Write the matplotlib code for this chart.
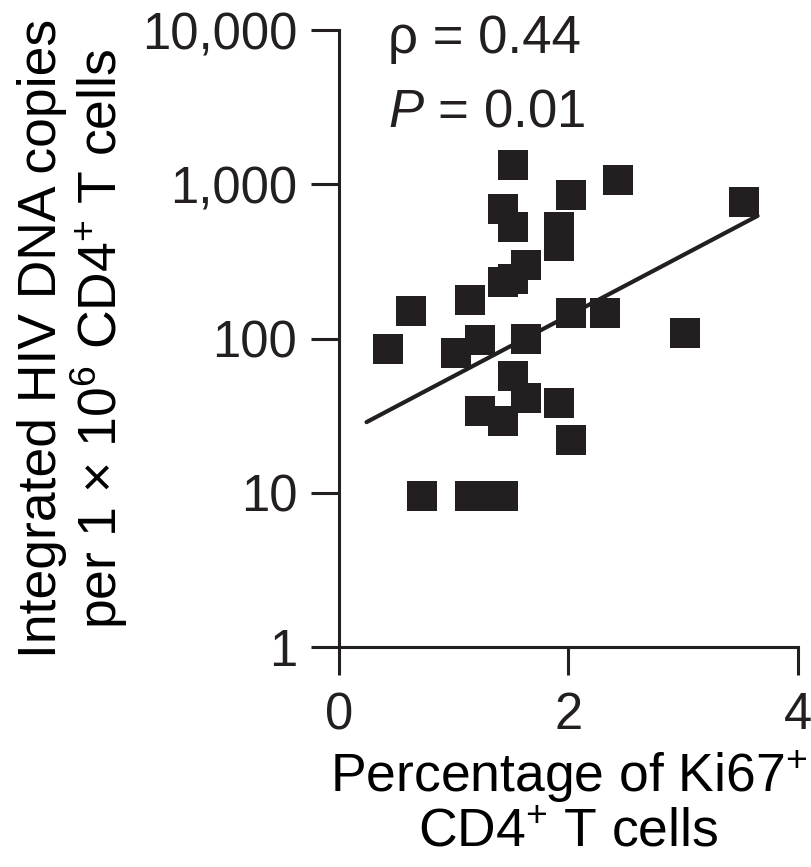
import matplotlib.pyplot as plt

# -------------------------
# Data
# -------------------------
ki67_pct = [1.52, 2.02, 2.43, 3.53, 1.43, 1.52, 1.92, 1.92, 1.63, 1.52,
            1.43, 1.14, 0.63, 2.02, 2.32, 3.02, 0.43, 1.23, 1.02, 1.63,
            1.52, 1.63, 1.92, 1.23, 1.43, 2.02, 0.72, 1.14, 1.28, 1.43]
hiv_dna = [1340, 857, 1070, 770, 696, 532, 532, 400, 300, 243,
           231, 177, 150, 146, 147, 109, 86, 98, 81, 100,
           57, 41, 38, 34, 29, 22, 9.5, 9.5, 9.5, 9.5]

# regression line end points
fit_x = [0.24, 3.65]
fit_y = [28.7, 624]

x_ticks = [0, 2, 4]
y_ticks = [1, 10, 100, 1000, 10000]
y_tick_labels = ["1", "10", "100", "1,000", "10,000"]

rho_text = "\u03c1 = 0.44"
p_text = "$P$ = 0.01"
x_label = "Percentage of Ki67$^{+}$\nCD4$^{+}$ T cells"
y_label = "Integrated HIV DNA copies\nper 1 \u00d7 10$^{6}$ CD4$^{+}$ T cells"

ink = "#231f20"

# -------------------------
# Style
# -------------------------
plt.rcParams["font.family"] = ["Liberation Sans", "DejaVu Sans"]
plt.rcParams["mathtext.fontset"] = "custom"
plt.rcParams["mathtext.rm"] = "Liberation Sans"
plt.rcParams["mathtext.it"] = "Liberation Sans:italic"
plt.rcParams["mathtext.bf"] = "Liberation Sans:bold"
plt.rcParams["text.color"] = ink

fig = plt.figure(figsize=(8.11, 8.67), dpi=100)
ax = fig.add_axes([339 / 811, 1 - 647 / 867, 458.7 / 811, 617 / 867])

ax.plot(fit_x, fit_y, color=ink, linewidth=3.0, solid_capstyle="round", zorder=2)
ax.plot(ki67_pct, hiv_dna, linestyle="none", marker="s", markersize=21,
        markerfacecolor=ink, markeredgewidth=0, zorder=3)

ax.set_yscale("log")
ax.set_xlim(0, 4)
ax.set_ylim(1, 10000)
ax.set_xticks(x_ticks)
ax.set_xticklabels([str(t) for t in x_ticks])
ax.set_yticks(y_ticks)
ax.set_yticklabels(y_tick_labels)
ax.yaxis.set_minor_locator(plt.NullLocator())

for side in ["top", "right"]:
    ax.spines[side].set_visible(False)
for side in ["left", "bottom"]:
    ax.spines[side].set_linewidth(2.2)
    ax.spines[side].set_color(ink)

ax.tick_params(direction="out", length=20, width=2.2, color=ink,
               labelsize=36.5, labelcolor=ink)
ax.tick_params(axis="y", pad=10)
ax.tick_params(axis="x", pad=12)

ax.set_xlabel(x_label, fontsize=38.5, linespacing=1.05)
ax.xaxis.set_label_coords(0.5, -0.165)
ax.set_ylabel(y_label, fontsize=38.5, linespacing=1.05)
ax.yaxis.set_label_coords(-0.455, 0.5)

ax.text(0.107, 0.963, rho_text, transform=ax.transAxes, fontsize=38,
        ha="left", va="baseline")
ax.text(0.107, 0.843, p_text, transform=ax.transAxes, fontsize=38,
        ha="left", va="baseline")

fig.savefig("out.png", dpi=100)
